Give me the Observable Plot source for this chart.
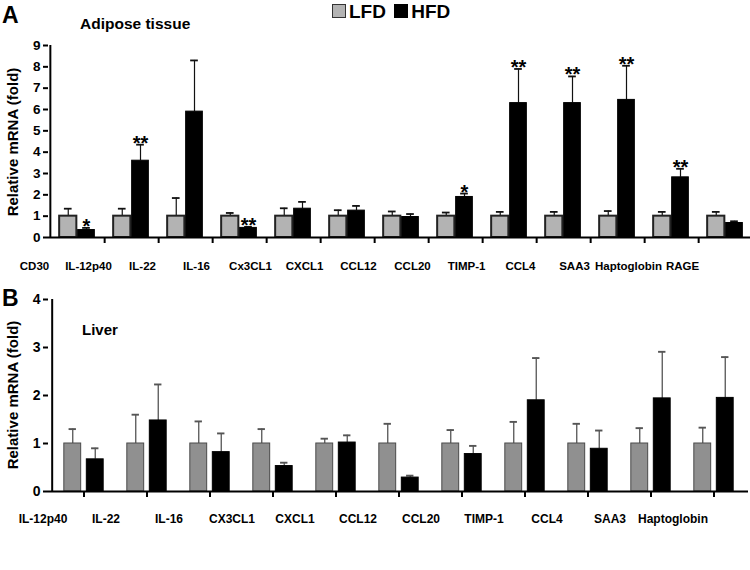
<!DOCTYPE html>
<html>
<head>
<meta charset="utf-8">
<script src="https://cdn.jsdelivr.net/npm/d3@7"></script>
<script src="https://cdn.jsdelivr.net/npm/@observablehq/plot@0.6"></script>
<style>
  body { margin: 0; background: #fff; }
  #wrap { position: relative; width: 750px; height: 570px; overflow: hidden; font-family: "Liberation Sans", Arial, sans-serif; font-weight: bold; color: #000; }
  .ov { position: absolute; white-space: nowrap; z-index: 2; line-height: 1.15; }
  .panel { position: absolute; left: 0; }
  .ytitle { position: absolute; font-size: 15px; transform: translate(-50%, -50%) rotate(-90deg); white-space: nowrap; z-index: 2; }
  .sq { display: inline-block; width: 12px; height: 12px; vertical-align: 0px; margin-right: 3px; }
</style>
</head>
<body>
<div id="wrap">
  <div id="top" class="panel" style="top:0px;"></div>
  <div id="bot" class="panel" style="top:285px;"></div>
  <div class="ov" style="left:2px;top:2px;font-size:23px;">A</div>
  <div class="ov" style="left:332px;top:1px;font-size:19px;">
    <span class="sq" style="background:#b3b3b3;border:1.5px solid #333;"></span>LFD
    <span class="sq" style="background:#000;border:1.5px solid #000;margin-left:3px;"></span>HFD
  </div>
  <div class="ov" style="left:80px;top:15px;font-size:15.5px;">Adipose tissue</div>
  <div class="ytitle" style="left:12px;top:142px;">Relative mRNA (fold)</div>
  <div class="ov" style="left:2px;top:285px;font-size:23px;">B</div>
  <div class="ov" style="left:82px;top:321px;font-size:15px;">Liver</div>
  <div class="ytitle" style="left:12px;top:395px;">Relative mRNA (fold)</div>
</div>
<script>
// ---------- Data ----------
const adiposeGenes = ["CD30","IL-12p40","IL-22","IL-16","Cx3CL1","CXCL1","CCL12","CCL20","TIMP-1","CCL4","SAA3","Haptoglobin","RAGE"];
const adiposeLFD    = [1, 1, 1, 1, 1, 1, 1, 1, 1, 1, 1, 1, 1];
const adiposeLFDerr = [0.35, 0.35, 0.85, 0.15, 0.37, 0.28, 0.22, 0.17, 0.2, 0.2, 0.24, 0.2, 0.2];
const adiposeHFD    = [0.35, 3.6, 5.9, 0.45, 1.35, 1.26, 0.96, 1.9, 6.3, 6.3, 6.45, 2.82, 0.68];
const adiposeHFDerr = [0.1, 0.75, 2.4, 0.05, 0.32, 0.22, 0.14, 0.16, 1.6, 1.25, 1.6, 0.4, 0.08];
const adiposeSig    = ["*", "**", "", "**", "", "", "", "*", "**", "**", "**", "**", ""];
const adiposeYTicks = [0, 1, 2, 3, 4, 5, 6, 7, 8, 9];

const liverGenes = ["IL-12p40","IL-22","IL-16","CX3CL1","CXCL1","CCL12","CCL20","TIMP-1","CCL4","SAA3","Haptoglobin"];
const liverLFD    = [1, 1, 1, 1, 1, 1, 1, 1, 1, 1, 1];
const liverLFDerr = [0.3, 0.6, 0.46, 0.3, 0.1, 0.41, 0.28, 0.45, 0.41, 0.32, 0.33];
const liverHFD    = [0.67, 1.48, 0.82, 0.53, 1.02, 0.29, 0.78, 1.9, 0.89, 1.94, 1.95];
const liverHFDerr = [0.23, 0.75, 0.39, 0.07, 0.15, 0.04, 0.17, 0.88, 0.38, 0.97, 0.85];
const liverYTicks = [0, 1, 2, 3, 4];

// ---------- Helpers ----------
function rows(genes, lfd, lfdErr, hfd, hfdErr, sig) {
  const out = [];
  genes.forEach((g, i) => {
    out.push({gene: g, group: "LFD", value: lfd[i], err: lfdErr[i], sig: ""});
    out.push({gene: g, group: "HFD", value: hfd[i], err: hfdErr[i], sig: sig ? sig[i] : ""});
  });
  return out;
}
const ins = (s, a, b) => ({insetLeft: s / 2 + a, insetRight: s / 2 - b});

function panel({genes, data, yMax, yTicks, height, marginTop, marginBottom, marginRight, step, lfdSpan, hfdSpan,
                lfdFill, lfdStroke, lfdStrokeWidth, errColor, errWidth, capW, labelDx, labelPad,
                boundaryTicks, yFont, xFont, tickLen, sigFont}) {
  const L = data.filter(d => d.group === "LFD");
  const H = data.filter(d => d.group === "HFD");
  const lc = (lfdSpan[0] + lfdSpan[1]) / 2, hc = (hfdSpan[0] + hfdSpan[1]) / 2;
  const marks = [];
  marks.push(Plot.ruleX(L, {x: "gene", y1: "value", y2: d => d.value + d.err, dx: lc, stroke: errColor, strokeWidth: errWidth}));
  marks.push(Plot.ruleX(H, {x: "gene", y1: "value", y2: d => d.value + d.err, dx: hc, stroke: errColor, strokeWidth: errWidth}));
  marks.push(Plot.tickY(L, {x: "gene", y: d => d.value + d.err, ...ins(step, lc - capW / 2, lc + capW / 2), stroke: errColor, strokeWidth: errWidth + 0.6}));
  marks.push(Plot.tickY(H, {x: "gene", y: d => d.value + d.err, ...ins(step, hc - capW / 2, hc + capW / 2), stroke: errColor, strokeWidth: errWidth + 0.6}));
  marks.push(Plot.barY(L, {x: "gene", y: "value", ...ins(step, lfdSpan[0], lfdSpan[1]), fill: lfdFill, stroke: lfdStroke, strokeWidth: lfdStrokeWidth}));
  marks.push(Plot.barY(H, {x: "gene", y: "value", ...ins(step, hfdSpan[0], hfdSpan[1]), fill: "#000", stroke: "#000", strokeWidth: 1}));
  marks.push(Plot.text(H.filter(d => d.sig), {x: "gene", y: d => d.value + d.err, text: "sig", dx: hc, dy: 5, lineAnchor: "bottom", fontSize: sigFont, fontWeight: "bold"}));
  marks.push(Plot.ruleY([0], {stroke: "#000", strokeWidth: 2}));
  marks.push(Plot.ruleX([genes[0]], {x: d => d, dx: -step / 2, y1: 0, y2: yMax, stroke: "#000", strokeWidth: 2}));
  marks.push(Plot.axisY({ticks: yTicks, tickFormat: d => String(d), tickSize: 5, tickPadding: 3, strokeWidth: 2, fontSize: yFont, fontWeight: "bold", label: null}));
  marks.push(Plot.axisX({ticks: genes, tickFormat: () => "", tickSize: tickLen, strokeWidth: 2, dx: boundaryTicks ? step / 2 : 0, label: null}));
  marks.push(Plot.axisX({ticks: genes, tickSize: 0, tickPadding: labelPad, dx: labelDx, fontSize: xFont, fontWeight: "bold", label: null}));
  return Plot.plot({
    width: 750,
    height,
    marginTop, marginBottom,
    marginLeft: 48, marginRight,
    x: {type: "band", domain: genes, padding: 0, label: null, axis: null},
    y: {domain: [0, yMax], label: null, axis: null},
    style: {fontFamily: "'Liberation Sans', Arial, sans-serif", fontWeight: "bold", color: "#000", background: "transparent", overflow: "visible"},
    marks
  });
}

const adipose = rows(adiposeGenes, adiposeLFD, adiposeLFDerr, adiposeHFD, adiposeHFDerr, adiposeSig);
const liver = rows(liverGenes, liverLFD, liverLFDerr, liverHFD, liverHFDerr, null);

const topRight = -4, botRight = 2;
const step1 = (750 - 48 - topRight) / adiposeGenes.length;
const step2 = (750 - 48 - botRight) / liverGenes.length;

document.getElementById("top").append(panel({
  genes: adiposeGenes, data: adipose, yMax: 9, yTicks: adiposeYTicks,
  height: 285, marginTop: 45, marginBottom: 48, marginRight: topRight, step: step1,
  lfdSpan: [-18, -0.5], hfdSpan: [0.5, 17.5],
  lfdFill: "#b3b3b3", lfdStroke: "#222", lfdStrokeWidth: 2,
  errColor: "#111", errWidth: 1.2, capW: 8, labelDx: -43, labelPad: 24,
  boundaryTicks: true, yFont: 13.5, xFont: 11.5, tickLen: 6, sigFont: 20
}));

document.getElementById("bot").append(panel({
  genes: liverGenes, data: liver, yMax: 4, yTicks: liverYTicks,
  height: 285, marginTop: 14, marginBottom: 79, marginRight: botRight, step: step2,
  lfdSpan: [-20, -2.5], hfdSpan: [2.5, 20],
  lfdFill: "#909090", lfdStroke: "#4a4a4a", lfdStrokeWidth: 1,
  errColor: "#555", errWidth: 1.3, capW: 8, labelDx: -41, labelPad: 23,
  boundaryTicks: false, yFont: 14, xFont: 12, tickLen: 6, sigFont: 20
}));
</script>
</body>
</html>
